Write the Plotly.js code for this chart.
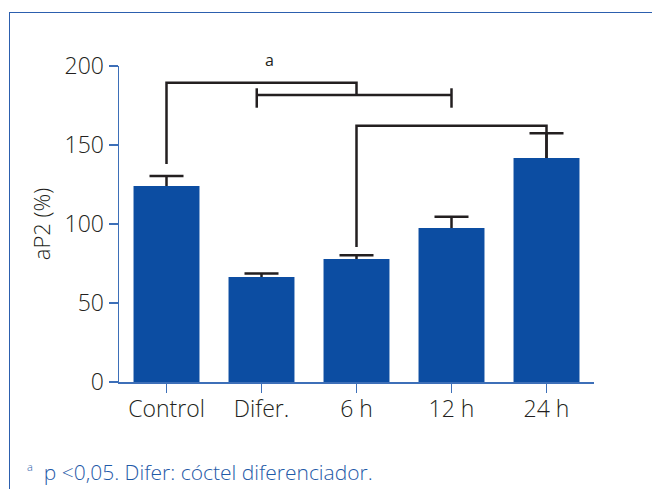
<!DOCTYPE html>
<html>
<head>
<meta charset="utf-8">
<script src="https://cdn.plot.ly/plotly-3.0.1.min.js"></script>
<style>
  html, body { margin: 0; padding: 0; background: #fff; }
  #wrap { position: relative; width: 652px; height: 489px; overflow: hidden; }
  #frame { position: absolute; left: 9px; top: 12px; right: -5px; bottom: -5px;
           border-left: 1.5px solid #2c5fae; border-top: 1.5px solid #2c5fae; pointer-events: none; }
  #chart { position: absolute; left: 0; top: 0; width: 652px; height: 489px; }
</style>
</head>
<body>
<div id="wrap">
  <div id="chart"></div>
  <div id="frame"></div>
</div>
<script>
// ---- data ----
var categories = ["Control", "Difer.", "6 h", "12 h", "24 h"];
var values = [124, 66.5, 77.8, 97.5, 141.8];
var errors = [6.4, 2.2, 2.4, 7.1, 15.6];
var yTicks = [0, 50, 100, 150, 200];

// significance brackets (category index positions, y levels in data units)
var bracketFrom = [0, 0.95, 2];
var bracketTo = [2, 3, 4];
var bracketTop = [189.4, 181.6, 162.2];
var bracketLeftFoot = [138, 173.6, 85.4];
var bracketRightFoot = [181.6, 173.6, 141.8];
var bracketRightCapTop = [null, 185.9, null];
var bracketLeftCapTop = [null, 185.9, null];
var sigLabel = "a";
var footnote = "<sup><span style=\"font-size:11px\">a</span></sup>  p <0,05. Difer: cóctel diferenciador.";

var barBlue = "#0c4da2";
var axisBlue = "#3d6fb8";
var ink = "#231f20";

var traces = [
  { // error bars (lower half hidden behind the bars drawn on top)
    type: "bar", x: categories, y: values,
    marker: { color: barBlue },
    error_y: { type: "data", array: errors, visible: true, color: ink, thickness: 2.5, width: 17 },
    hoverinfo: "skip", showlegend: false
  },
  {
    type: "bar", x: categories, y: values,
    marker: { color: barBlue },
    showlegend: false
  }
];

var shapes = [];
for (var i = 0; i < bracketFrom.length; i++) {
  var a = bracketFrom[i], b = bracketTo[i];
  if (bracketLeftCapTop[i] === null) {
    shapes.push({ type: "path", xref: "x", yref: "y", layer: "above",
      path: "M " + a + "," + bracketLeftFoot[i] + " L " + a + "," + bracketTop[i] +
            " L " + b + "," + bracketTop[i] + " L " + b + "," + bracketRightFoot[i],
      line: { color: ink, width: 2.5 } });
  } else {
    shapes.push({ type: "line", xref: "x", yref: "y", layer: "above",
      x0: a, x1: b, y0: bracketTop[i], y1: bracketTop[i], line: { color: ink, width: 2.5 } });
    shapes.push({ type: "line", xref: "x", yref: "y", layer: "above",
      x0: a, x1: a, y0: bracketLeftFoot[i], y1: bracketLeftCapTop[i], line: { color: ink, width: 2.5 } });
    shapes.push({ type: "line", xref: "x", yref: "y", layer: "above",
      x0: b, x1: b, y0: bracketRightFoot[i], y1: bracketRightCapTop[i], line: { color: ink, width: 2.5 } });
  }
}

var font = "'Open Sans', 'Noto Sans', sans-serif";

var layout = {
  width: 652, height: 489,
  margin: { l: 119, r: 58, t: 66, b: 107 },
  paper_bgcolor: "rgba(0,0,0,0)", plot_bgcolor: "rgba(0,0,0,0)",
  barmode: "overlay", bargap: 0.31,
  showlegend: false,
  font: { family: font, color: ink, size: 23 },
  xaxis: {
    type: "category", range: [-0.5, 4.5],
    showline: true, linecolor: axisBlue, linewidth: 1.5,
    ticks: "outside", ticklen: 9, tickwidth: 1.5, tickcolor: axisBlue,
    ticklabelstandoff: -3,
    tickfont: { family: font, size: 23, color: ink, weight: 300 },
    showgrid: false, zeroline: false, fixedrange: true
  },
  yaxis: {
    range: [0, 200], tickvals: yTicks,
    showline: true, linecolor: axisBlue, linewidth: 1.5,
    ticks: "outside", ticklen: 9, tickwidth: 1.5, tickcolor: axisBlue,
    tickfont: { family: font, size: 23, color: ink, weight: 300 },
    showgrid: false, zeroline: false, fixedrange: true,
    title: { text: "aP2 (%)", font: { family: font, size: 22, color: ink, weight: 300 }, standoff: 8 }
  },
  shapes: shapes,
  annotations: [
    { text: sigLabel, xref: "x", yref: "paper", x: 1.08, y: 1.019, yanchor: "middle", showarrow: false,
      font: { family: font, size: 16, color: ink } },
    { text: footnote, xref: "paper", yref: "paper", x: -0.197, y: -0.285,
      xanchor: "left", yanchor: "middle", showarrow: false,
      font: { family: font, size: 21, color: "#1f5aa8", weight: 300 } }
  ]
};

Plotly.newPlot("chart", traces, layout, { displayModeBar: false, staticPlot: true });
</script>
</body>
</html>
